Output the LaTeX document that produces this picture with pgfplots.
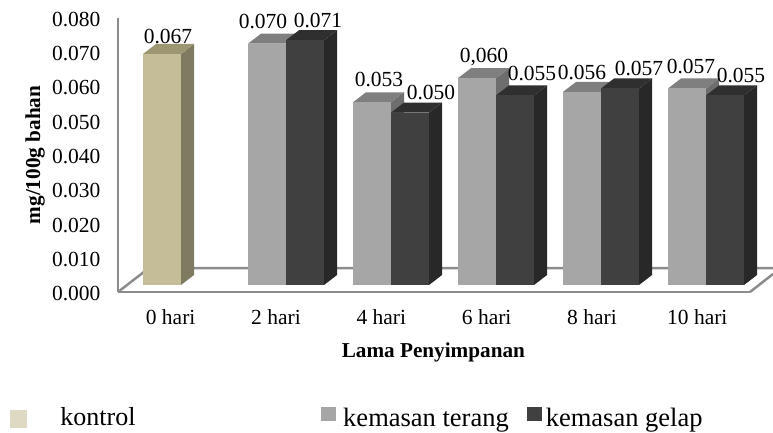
\documentclass[border=0pt]{standalone}
\usepackage{fontspec}
\setmainfont{Liberation Serif}
\usepackage{pgfplots}
\pgfplotsset{compat=1.18}

\definecolor{kontrolfront}{HTML}{C4BD97}
\definecolor{kontroltop}{HTML}{9C9772}
\definecolor{kontrolside}{HTML}{7F7B60}
\definecolor{kontrolkey}{HTML}{DDD9C3}
\definecolor{terangfront}{HTML}{A6A6A6}
\definecolor{terangtop}{HTML}{7F7F7F}
\definecolor{terangside}{HTML}{6E6E6E}
\definecolor{gelapfront}{HTML}{404040}
\definecolor{gelaptop}{HTML}{2F2F2F}
\definecolor{gelapside}{HTML}{282828}
\definecolor{wall}{HTML}{8C8C8C}

% one bar with its depth: left edge, value, colour prefix
\newcommand{\depthbar}[3]{%
  \pgfmathsetmacro\xb{#1+0.362}%
  \pgfmathsetmacro\xc{#1+0.362+0.124}%
  \pgfmathsetmacro\xd{#1+0.124}%
  \pgfmathsetmacro\xm{#1+0.181}%
  \pgfmathsetmacro\vt{#2+0.0029}%
  \edef\faces{%
    \noexpand\addplot[fill=#3side,draw=none,forget plot] coordinates {(\xb,0) (\xc,0.0029) (\xc,\vt) (\xb,#2)} --cycle;
    \noexpand\addplot[fill=#3top,draw=none,forget plot] coordinates {(#1,#2) (\xd,\vt) (\xc,\vt) (\xb,#2)} --cycle;
    \noexpand\addplot[ybar,bar width=38pt,bar shift=0pt,fill=#3front,draw=none,forget plot] coordinates {(\xm,#2)};
  }%
  \faces
}

\newcommand{\vlabel}[3]{\node[font=\fontsize{21.5}{24}\selectfont,text depth=0pt,inner sep=0pt] at (axis cs:#1,#2) {#3};}

\begin{document}
\begin{tikzpicture}[x=1pt,y=1pt]
\path[use as bounding box] (0,0) rectangle (773,432);

% frame, ticks and labels
\begin{axis}[
    at={(118pt,140pt)}, anchor=south west,
    scale only axis, width=632pt, height=274pt,
    xmin=-0.5, xmax=5.5, ymin=0, ymax=0.08,
    axis lines*=left,
    axis line style={draw=wall,line width=2.5pt,-},
    xtick={0,1,2,3,4,5},
    xticklabels={0 hari,2 hari,4 hari,6 hari,8 hari,10 hari},
    ytick={0,0.01,0.02,0.03,0.04,0.05,0.06,0.07,0.08},
    major tick length=0pt,
    tick label style={font=\fontsize{21.5}{24}\selectfont},
    /pgf/number format/assume math mode=true,
    /pgf/number format/fixed, /pgf/number format/zerofill, /pgf/number format/precision=3,
    scaled y ticks=false,
    yticklabel style={xshift=-14pt,yshift=-1.5pt},
    xticklabel style={yshift=-14pt},
    xlabel={\textbf{Lama Penyimpanan}},
    ylabel={\textbf{mg/100g bahan}},
    xlabel style={at={(axis description cs:0.499,-0.222)},anchor=center,font=\fontsize{21.2}{24}\selectfont},
    ylabel style={at={(axis description cs:-0.131,0.5)},anchor=center,font=\fontsize{21.2}{24}\selectfont},
    legend style={at={(axis description cs:-0.1753,-0.412)},anchor=north west,draw=none,fill=none,
      nodes={inner sep=0pt},font=\fontsize{26}{30}\selectfont},
]
\addlegendimage{legend image code/.code={\path[fill=kontrolkey,draw=none] (0,-11.5pt) rectangle (17pt,6.5pt); \path[draw=none] (0,0) -- (50pt,0);}}
\addlegendentry{kontrol}
\end{axis}

% floor and bars: x unit 105pt per category, y unit 3448pt per 1.0
\begin{axis}[
    at={(118pt,140pt)}, anchor=south west,
    scale only axis, width=655pt, height=274pt,
    xmin=-0.6, xmax=5.638, ymin=-0.00203, ymax=0.07744,
    hide axis, clip mode=individual,
    legend columns=2,
    legend style={at={(axis description cs:0.3054,-0.412)},anchor=north west,draw=none,fill=none,
      nodes={inner sep=0pt},font=\fontsize{26.5}{30}\selectfont,
      /tikz/every even column/.append style={column sep=18pt}},
]
\addplot[wall,line width=2.5pt,no marks,forget plot] coordinates {(-0.6,-0.00203) (-0.3048,0.00493) (5.638,0.00493)};
\addplot[wall,line width=2.5pt,no marks,forget plot] coordinates {(5.419,-0.00203) (5.638,0.00319)};

\depthbar{-0.362}{0.067}{kontrol}

\depthbar{0.638}{0.070}{terang}
\depthbar{1.638}{0.053}{terang}
\depthbar{2.638}{0.060}{terang}
\depthbar{3.638}{0.056}{terang}
\depthbar{4.638}{0.057}{terang}

\depthbar{1}{0.071}{gelap}
\depthbar{2}{0.050}{gelap}
\depthbar{3}{0.055}{gelap}
\depthbar{4}{0.057}{gelap}
\depthbar{5}{0.055}{gelap}

\vlabel{-0.124}{0.0722}{0.067}
\vlabel{0.781}{0.0766}{0.070}
\vlabel{1.305}{0.0769}{0.071}
\vlabel{1.886}{0.0597}{0.053}
\vlabel{2.381}{0.0560}{0.050}
\vlabel{2.886}{0.0667}{0,060}
\vlabel{3.343}{0.0615}{0.055}
\vlabel{3.819}{0.0618}{0.056}
\vlabel{4.362}{0.0629}{0.057}
\vlabel{4.857}{0.0635}{0.057}
\vlabel{5.333}{0.0609}{0.055}

\addlegendimage{legend image code/.code={\path[fill=terangfront,draw=none] (0,-3.5pt) rectangle (14.5pt,10.5pt); \path[draw=none] (0,0) -- (22pt,0);}}
\addlegendentry{kemasan terang}
\addlegendimage{legend image code/.code={\path[fill=gelapfront,draw=none] (0,-3.5pt) rectangle (15pt,10.5pt); \path[draw=none] (0,0) -- (19pt,0);}}
\addlegendentry{kemasan gelap}
\end{axis}
\end{tikzpicture}
\end{document}
